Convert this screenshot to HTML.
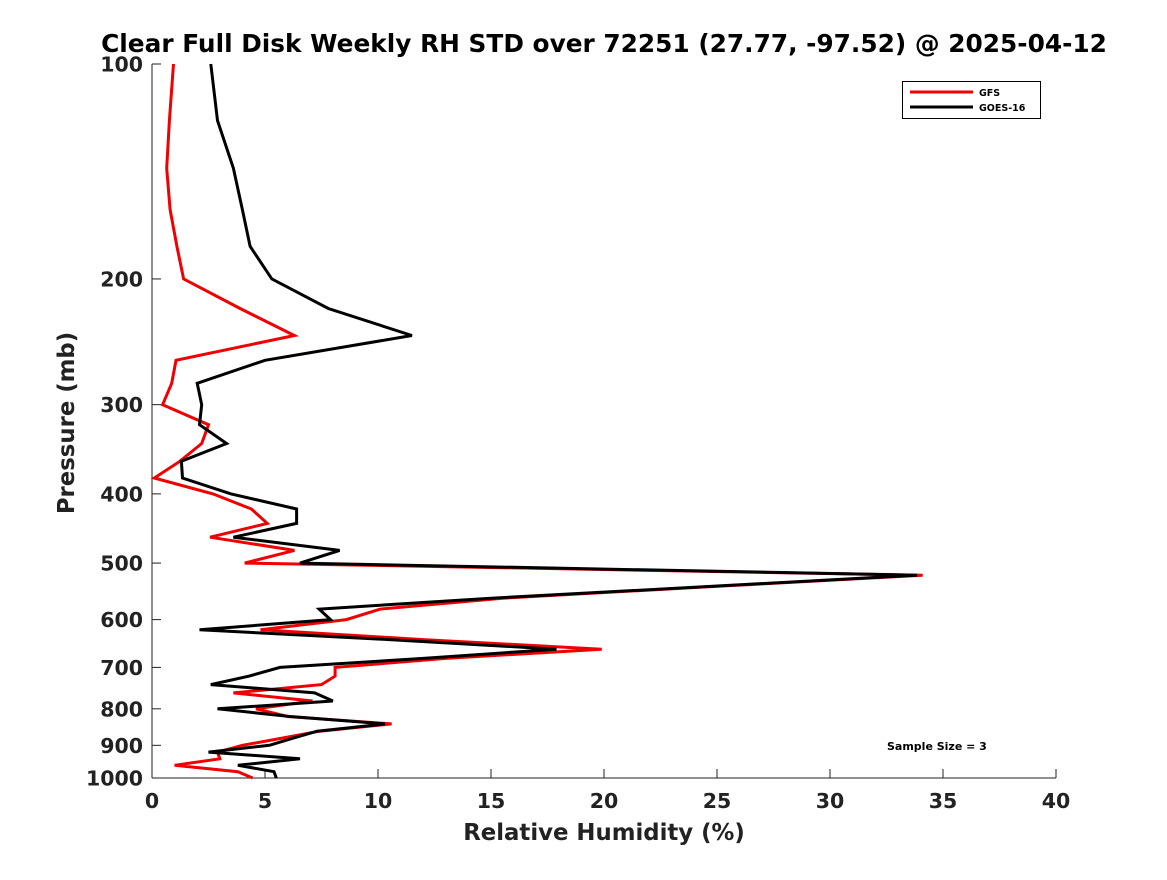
<!DOCTYPE html>
<html><head><meta charset="utf-8"><style>
html,body{margin:0;padding:0;background:#fff;}
svg text{font-family:"DejaVu Sans","Liberation Sans",sans-serif;font-weight:bold;fill:#222;}
</style></head><body>
<svg id="chart" width="1167" height="875" viewBox="0 0 1167 875" xmlns="http://www.w3.org/2000/svg">
<rect width="1167" height="875" fill="#fff"/>
<text x="604" y="52" text-anchor="middle" font-size="24.8" style="fill:#000">Clear Full Disk Weekly RH STD over 72251 (27.77, -97.52) @ 2025-04-12</text>
<g id="axes"></g>
<g id="series"></g>
<text x="604" y="840" text-anchor="middle" font-size="22.8">Relative Humidity (%)</text>
<text transform="translate(74,423) rotate(-90)" text-anchor="middle" font-size="22.8">Pressure (mb)</text>
<text x="887" y="750" font-size="11" style="fill:#000">Sample Size = 3</text>
<g>
<rect x="902.5" y="81.5" width="138" height="37" fill="#fff" stroke="#000" stroke-width="1"/>
<line x1="910" y1="92" x2="973" y2="92" stroke="#f00000" stroke-width="3"/>
<text x="979" y="96" font-size="9.5" style="fill:#000">GFS</text>
<line x1="910" y1="107" x2="973" y2="107" stroke="#000" stroke-width="3"/>
<text x="979" y="111" font-size="9.5" style="fill:#000">GOES-16</text>
</g>
</svg>
<script>
const pressureLevels = [100,120,140,160,180,200,220,240,260,280,300,320,340,360,380,400,420,440,460,480,500,520,540,560,580,600,620,640,660,680,700,720,740,760,780,800,820,840,860,880,900,920,940,960,980,1000];
const gfsValues = [0.95,0.77,0.65,0.8,1.1,1.4,3.9,6.3,1.06,0.87,0.47,2.5,2.2,1.24,0.1,2.7,4.4,5.1,2.57,6.3,4.1,34.1,24.5,15.5,10.1,8.6,4.8,12,19.9,13,8.1,8.1,7.5,3.6,7.1,4.6,6.0,10.6,7.4,5.7,4.0,2.9,3.0,1.0,3.8,4.45];
const goesValues = [2.6,2.9,3.6,4.0,4.34,5.3,7.8,11.5,5.0,2.0,2.2,2.1,3.3,1.3,1.35,3.5,6.4,6.4,3.6,8.3,6.55,33.85,24.3,15.0,7.4,7.9,2.1,10.5,17.9,12,5.66,4.3,2.6,7.2,8.0,2.9,6.1,10.3,7.3,6.2,5.2,2.5,6.55,3.8,5.4,5.5];
const xTicks = [0,5,10,15,20,25,30,35,40];
const yTicks = [100,200,300,400,500,600,700,800,900,1000];

const NS = 'http://www.w3.org/2000/svg';
const L = 152, R = 1056, T = 64, B = 778;
const xScale = v => L + (v - 0) / 40 * (R - L);
const yScale = p => T + (Math.log10(p) - 2) * (B - T);
function mk(tag, attrs, parent) {
  const e = document.createElementNS(NS, tag);
  for (const k in attrs) e.setAttribute(k, attrs[k]);
  parent.appendChild(e);
  return e;
}
const axes = document.getElementById('axes');
const xAxis = mk('line', {x1: L, y1: B, x2: R, y2: B, stroke: '#222', 'stroke-width': 1}, axes);


const yAxis = mk('line', {x1: L, y1: T, x2: L, y2: B, stroke: '#222', 'stroke-width': 1}, axes);


xTicks.forEach(v => {
  const x = xScale(v);
  const t = mk('line', {x1: x, y1: B, x2: x, y2: B - 9, stroke: '#222', 'stroke-width': 1}, axes);
  
  
  const lb = mk('text', {x: x, y: B + 30, 'text-anchor': 'middle', 'font-size': 20.5}, axes);
  lb.textContent = v;
  
  
});
yTicks.forEach(p => {
  const y = yScale(p);
  const t = mk('line', {x1: L, y1: y, x2: L + 9, y2: y, stroke: '#222', 'stroke-width': 1}, axes);
  
  
  const lb = mk('text', {x: L - 9, y: y + 7.5, 'text-anchor': 'end', 'font-size': 20.5}, axes);
  lb.textContent = p;
  
  
});
const series = document.getElementById('series');
function drawLine(vals, color, name) {
  const pts = vals.map((v, i) => xScale(v).toFixed(1) + ',' + yScale(pressureLevels[i]).toFixed(1)).join(' ');
  const pl = mk('polyline', {points: pts, fill: 'none', stroke: color, 'stroke-width': 3, 'stroke-linejoin': 'miter'}, series);
  
  
}
drawLine(gfsValues, '#f00000', 'gfs-line');
drawLine(goesValues, '#000', 'goes16-line');
</script>
</body></html>
